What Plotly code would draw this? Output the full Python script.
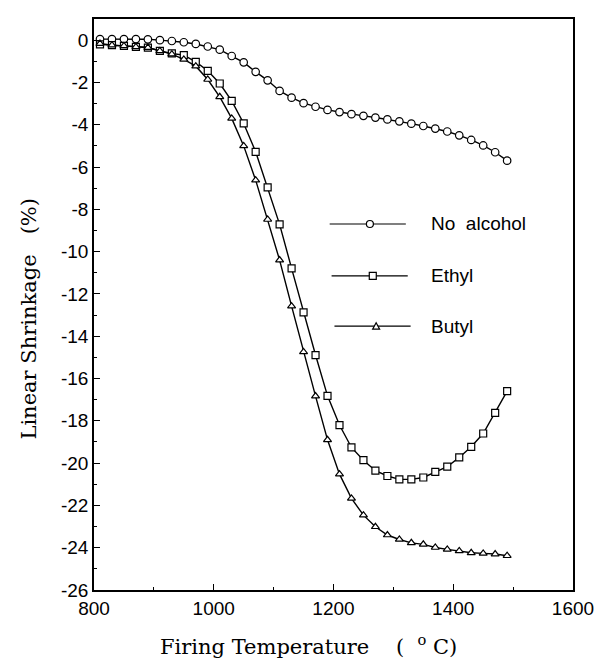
import plotly.graph_objects as go

temperature = [810, 830, 850, 870, 890, 910, 930, 950, 970, 990,
               1010, 1030, 1050, 1070, 1090, 1110, 1130, 1150, 1170, 1190,
               1210, 1230, 1250, 1270, 1290, 1310, 1330, 1350, 1370, 1390,
               1410, 1430, 1450, 1470, 1490]

no_alcohol = [0.05, 0.05, 0.05, 0.05, 0.04, 0.0, -0.04, -0.1, -0.18, -0.3,
              -0.45, -0.75, -1.05, -1.5, -1.9, -2.4, -2.72, -2.98, -3.15, -3.3,
              -3.4, -3.5, -3.58, -3.66, -3.75, -3.84, -3.95, -4.06, -4.18, -4.32,
              -4.5, -4.72, -4.98, -5.3, -5.7]

ethyl = [-0.2, -0.24, -0.27, -0.32, -0.35, -0.51, -0.63, -0.71, -1.03, -1.45,
         -2.05, -2.87, -3.94, -5.28, -6.96, -8.71, -10.79, -12.87, -14.89, -16.82,
         -18.2, -19.26, -19.86, -20.36, -20.61, -20.77, -20.77, -20.68, -20.41, -20.17,
         -19.73, -19.23, -18.6, -17.62, -16.6]

butyl = [-0.16, -0.24, -0.27, -0.32, -0.35, -0.51, -0.66, -0.91, -1.23, -1.86,
         -2.68, -3.7, -5.0, -6.62, -8.48, -10.4, -12.58, -14.74, -16.83, -18.9,
         -20.52, -21.67, -22.46, -23.01, -23.4, -23.61, -23.77, -23.84, -23.99, -24.08,
         -24.15, -24.24, -24.27, -24.3, -24.38]

series_names = ["No alcohol", "Ethyl", "Butyl"]
x_ticks = [800, 1000, 1200, 1400, 1600]
y_ticks = [0, -2, -4, -6, -8, -10, -12, -14, -16, -18, -20, -22, -24, -26]

NB = "\u00a0"

fig = go.Figure()
for name, ys, sym, size in [(series_names[0], no_alcohol, "circle", 7.5),
                            (series_names[1], ethyl, "square", 7),
                            (series_names[2], butyl, "triangle-up", 7)]:
    fig.add_trace(go.Scatter(
        x=temperature, y=ys, mode="lines+markers", name=name,
        line=dict(color="black", width=1.4),
        marker=dict(symbol=sym, size=size, color="white",
                    line=dict(color="black", width=1.2)),
        showlegend=False))

# hand-drawn style legend inside plot (paper coordinates)
legend_rows = [(0.641, 0.492, 0.651, 0.576, "circle"),
               (0.550, 0.496, 0.655, 0.582, "square"),
               (0.462, 0.502, 0.661, 0.589, "triangle")]
legend_labels = ["No" + NB + NB + "alcohol", "Ethyl", "Butyl"]
shapes = []
annotations = []
for (yy, xa, xb, xm, kind), label in zip(legend_rows, legend_labels):
    shapes.append(dict(type="line", xref="paper", yref="paper", x0=xa, x1=xb,
                       y0=yy, y1=yy, line=dict(color="black", width=1.2)))
    if kind == "circle":
        shapes.append(dict(type="circle", xref="paper", yref="paper",
                           xsizemode="pixel", ysizemode="pixel",
                           xanchor=xm, yanchor=yy, x0=-3.5, x1=3.5, y0=-3.5, y1=3.5,
                           fillcolor="white", line=dict(color="black", width=1.2)))
    elif kind == "square":
        shapes.append(dict(type="rect", xref="paper", yref="paper",
                           xsizemode="pixel", ysizemode="pixel",
                           xanchor=xm, yanchor=yy, x0=-3.5, x1=3.5, y0=-3.5, y1=3.5,
                           fillcolor="white", line=dict(color="black", width=1.2)))
    else:
        shapes.append(dict(type="path", xref="paper", yref="paper",
                           xsizemode="pixel", ysizemode="pixel",
                           xanchor=xm, yanchor=yy, path="M -3.5 -3 L 3.5 -3 L 0 3.5 Z",
                           fillcolor="white", line=dict(color="black", width=1.2)))
    annotations.append(dict(xref="paper", yref="paper", x=0.70, y=yy, text=label,
                            showarrow=False, xanchor="left", yanchor="middle",
                            font=dict(family="Liberation Sans, Arial", size=19, color="black")))

# axis titles
annotations.append(dict(xref="paper", yref="paper", x=0.448, y=-0.097,
                        text="Firing" + NB + "Temperature" + NB * 4 + "(" + NB + NB + "<sup>o</sup>" + NB + "C)",
                        showarrow=False, xanchor="center", yanchor="middle",
                        font=dict(family="DejaVu Serif", size=21, color="black")))
annotations.append(dict(xref="paper", yref="paper", x=-0.135, y=0.476,
                        text="Linear" + NB + "Shrinkage" + NB * 3 + "(%)", textangle=-90,
                        showarrow=False, xanchor="center", yanchor="middle",
                        font=dict(family="DejaVu Serif", size=21, color="black")))

fig.update_layout(
    width=606, height=661,
    margin=dict(l=94, r=28, t=19, b=71),
    paper_bgcolor="white", plot_bgcolor="white",
    font=dict(family="Liberation Sans, Arial", size=19, color="black"),
    shapes=shapes, annotations=annotations,
)
fig.update_xaxes(
    range=[800, 1600], tickvals=x_ticks, ticktext=[str(v) for v in x_ticks],
    ticks="inside", ticklen=6, tickwidth=1.2, tickcolor="black",
    minor=dict(dtick=100, tick0=800, ticks="inside", ticklen=3, tickcolor="black", showgrid=False),
    showline=True, linecolor="black", linewidth=1.5, mirror=True,
    showgrid=False, zeroline=False,
)
fig.update_yaxes(
    range=[-26, 1], tickvals=y_ticks, ticktext=[str(v) for v in y_ticks],
    ticks="inside", ticklen=6, tickwidth=1.2, tickcolor="black",
    minor=dict(dtick=1, tick0=0, ticks="inside", ticklen=3, tickcolor="black", showgrid=False),
    showline=True, linecolor="black", linewidth=1.5, mirror=True,
    showgrid=False, zeroline=False,
)

fig.write_html("out.html")
